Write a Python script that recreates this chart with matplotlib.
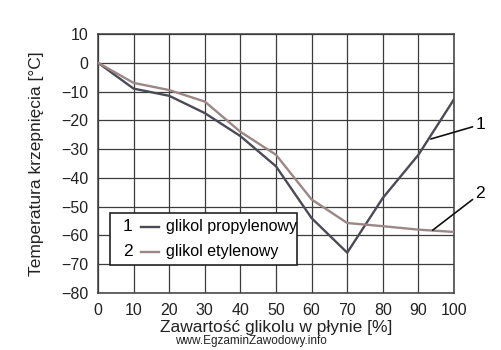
import matplotlib.pyplot as plt
from matplotlib.patches import Rectangle

plt.rcParams['font.family'] = ['Liberation Sans', 'DejaVu Sans']

# zawartosc glikolu [%]
content = [0, 10, 20, 30, 40, 50, 60, 70, 80, 90, 100]
# temperatura krzepniecia [C]
propylene = [0, -9, -11.5, -17.5, -25.5, -36, -54, -66, -47, -32, -12.7]
ethylene = [0, -7, -9.5, -13.5, -24, -32, -47.5, -55.7, -56.8, -58, -58.8]

x_ticks = [0, 10, 20, 30, 40, 50, 60, 70, 80, 90, 100]
y_ticks = [10, 0, -10, -20, -30, -40, -50, -60, -70, -80]

c_prop = '#4b4b55'
c_eth = '#9c8787'
c_grid = '#3c3c3c'

fig = plt.figure(figsize=(5.01, 3.5), dpi=100)
ax = fig.add_axes([0.1956, 0.163, 0.7106, 0.740])

ax.plot(content, propylene, color=c_prop, lw=1.7, zorder=3)
ax.plot(content, ethylene, color=c_eth, lw=1.7, zorder=3)

ax.set_xlim(0, 100)
ax.set_ylim(-80, 10)
ax.set_xticks(x_ticks)
ax.set_yticks(y_ticks)
ax.set_yticklabels([str(v).replace('-', '\u2212') for v in y_ticks])
ax.tick_params(length=0, labelsize=11.5, pad=7, colors='#222222')
ax.grid(True, color=c_grid, lw=0.9)
for s in ax.spines.values():
    s.set_color(c_grid)
    s.set_linewidth(1.1)

ax.set_xlabel('Zawartość glikolu w płynie [%]', fontsize=12.5, color='#222222', labelpad=2)
ax.set_ylabel('Temperatura krzepnięcia [°C]', fontsize=12.5, color='#222222', labelpad=12)

# legenda w ramce
ax.add_patch(Rectangle((0.034, 0.107), 0.525, 0.2, transform=ax.transAxes,
                       facecolor='white', edgecolor='#222222', lw=1.2, zorder=4))
ax.text(0.07, 0.255, '1', transform=ax.transAxes, fontsize=12.5, va='center', zorder=5)
ax.text(0.07, 0.16, '2', transform=ax.transAxes, fontsize=12.5, va='center', zorder=5)
ax.plot([0.12, 0.17], [0.255, 0.255], transform=ax.transAxes, color=c_prop, lw=1.7, zorder=5)
ax.plot([0.12, 0.17], [0.16, 0.16], transform=ax.transAxes, color=c_eth, lw=1.7, zorder=5)
ax.text(0.19, 0.255, 'glikol propylenowy', transform=ax.transAxes, fontsize=11.5, va='center', zorder=5)
ax.text(0.19, 0.16, 'glikol etylenowy', transform=ax.transAxes, fontsize=11.5, va='center', zorder=5)

# odnosniki 1 i 2
ax.annotate('1', xy=(93.5, -26.5), xytext=(106, -21.5), fontsize=12.5, va='center',
            annotation_clip=False,
            arrowprops=dict(arrowstyle='-', color='#111111', lw=1.2, shrinkA=0, shrinkB=0))
ax.annotate('2', xy=(94, -58.2), xytext=(106, -45.5), fontsize=12.5, va='center',
            annotation_clip=False,
            arrowprops=dict(arrowstyle='-', color='#111111', lw=1.2, shrinkA=0, shrinkB=0))

fig.text(0.35, 0.008, 'www.EgzaminZawodowy.info', fontsize=8.5, color='#222222', va='bottom')

fig.savefig('out.png', dpi=100)
